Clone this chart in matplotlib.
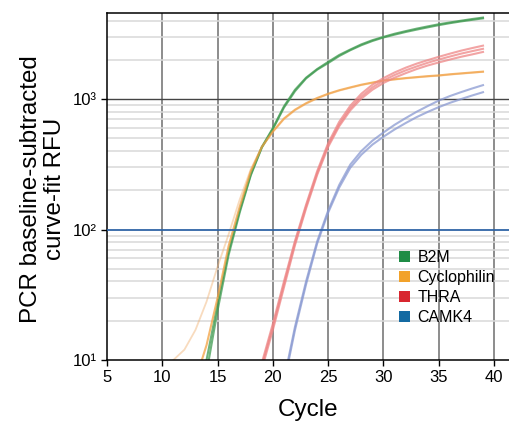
import matplotlib
matplotlib.use("Agg")
import matplotlib.pyplot as plt
from matplotlib.patches import Patch
from matplotlib.ticker import FixedLocator, LogLocator, NullFormatter

plt.rcParams['font.family'] = ['Liberation Sans', 'DejaVu Sans']

# B2M replicates (cycle 12..39)
b2m_cycles = list(range(12, 40))
b2m_rep1 = [3, 5.5, 10, 27, 68, 140, 265, 430, 600, 880, 1180, 1460, 1700, 1930,
            2180, 2400, 2630, 2830, 3000, 3170, 3320, 3470, 3610, 3750, 3870, 3990, 4110, 4220]
b2m_rep2 = [2.5, 4.5, 8, 24, 64, 135, 260, 425, 590, 860, 1150, 1440, 1680, 1890,
            2140, 2370, 2590, 2790, 2970, 3120, 3270, 3410, 3550, 3690, 3820, 3940, 4050, 4160]

# Cyclophilin replicates (cycle 9..39)
cyc_cycles = list(range(9, 40))
cyc_faint = [7, 8.5, 10, 12, 17, 28, 52, 92, 170, 290, 430, 560, 700, 820, 920, 1010,
             1090, 1160, 1220, 1280, 1330, 1380, 1410, 1440, 1465, 1490, 1510, 1540, 1565, 1590, 1615]
cyc_main = [1, 1.5, 2.5, 4, 7, 13, 30, 75, 150, 280, 430, 565, 710, 830, 930, 1020,
            1100, 1170, 1230, 1290, 1340, 1390, 1420, 1450, 1475, 1500, 1520, 1550, 1575, 1600, 1625]

# THRA replicates (cycle 18..39)
thra_cycles = list(range(18, 40))
thra_rep1 = [5, 9.5, 19, 40, 82, 155, 280, 460, 670, 890, 1100, 1290, 1450, 1600, 1740,
             1870, 1990, 2110, 2230, 2350, 2460, 2570]
thra_rep2 = [4.5, 9, 18, 38, 79, 150, 270, 445, 640, 850, 1050, 1230, 1390, 1530, 1660,
             1780, 1900, 2010, 2120, 2230, 2330, 2430]
thra_rep3 = [4.5, 8.5, 17, 36, 76, 145, 262, 430, 620, 820, 1010, 1180, 1330, 1460, 1580,
             1700, 1810, 1910, 2010, 2110, 2200, 2300]

# CAMK4 replicates (cycle 20..39)
camk_cycles = list(range(20, 40))
camk_rep1 = [2.5, 7, 18, 40, 81, 140, 220, 315, 400, 480, 555, 635, 715, 800, 885, 975,
             1055, 1130, 1205, 1280]
camk_rep2 = [2.3, 6.6, 17, 38, 78, 135, 210, 298, 375, 448, 515, 585, 655, 728, 798, 868,
             936, 1000, 1065, 1130]

threshold = 100

labels = ["B2M", "Cyclophilin", "THRA", "CAMK4"]
legend_colors = ["#1e8c45", "#f2a22a", "#d8262f", "#146aa2"]
line_colors = ["#3f9a50", "#f2a040", "#ee8686", "#8a9ad2"]

fig = plt.figure(figsize=(5.09, 4.22), dpi=100)
ax = fig.add_axes([107 / 509, 1 - 360 / 422, 1 - 107 / 509, 347 / 422])
ax.set_yscale("log")
ax.set_xlim(5, 41.35)
ax.set_ylim(10, 4573)

# grid
for x in range(10, 41, 5):
    ax.axvline(x, color="#8c8c8c", lw=1.4, zorder=1)
ax.yaxis.set_minor_locator(LogLocator(base=10, subs=range(2, 10)))
ax.yaxis.set_minor_formatter(NullFormatter())
ax.grid(axis="y", which="minor", color="#d9d9d9", lw=1.1, zorder=0)
ax.axhline(1000, color="#444444", lw=1.0, zorder=1)
ax.axhline(threshold, color="#2f64a6", lw=1.3, zorder=3)
ax.tick_params(axis="y", which="minor", length=0)

# curves
ax.plot(cyc_cycles, cyc_faint, color="#f0b070", lw=1.3, alpha=0.45, zorder=2)
for reps, cyc, col in [
    ([b2m_rep1, b2m_rep2], b2m_cycles, line_colors[0]),
    ([cyc_main], cyc_cycles, line_colors[1]),
    ([thra_rep1, thra_rep2, thra_rep3], thra_cycles, line_colors[2]),
    ([camk_rep1, camk_rep2], camk_cycles, line_colors[3]),
]:
    for r in reps:
        ax.plot(cyc, r, color=col, lw=1.5, alpha=0.75, zorder=2)

ax.xaxis.set_major_locator(FixedLocator(range(5, 41, 5)))
ax.set_yticks([10, 100, 1000])
ax.set_yticklabels(["10\u00b9", "10\u00b2", "10\u00b3"])
ax.tick_params(axis="both", which="major", labelsize=12, direction="out", length=4, width=1)
ax.tick_params(axis="x", top=False)
ax.spines["right"].set_visible(False)
for s in ["left", "bottom", "top"]:
    ax.spines[s].set_linewidth(1.1)

ax.set_xlabel("Cycle", fontsize=17.5)
ax.xaxis.set_label_coords(0.5, -0.112)
ax.set_ylabel("PCR baseline-subtracted\ncurve-fit RFU", fontsize=17.4, linespacing=1.08)
ax.yaxis.set_label_coords(-0.103, 0.493)

handles = [Patch(facecolor=c, edgecolor="none") for c in legend_colors]
ax.legend(handles, labels, loc="upper left", bbox_to_anchor=(399 / 509, 1 - 250 / 422),
          bbox_transform=fig.transFigure, frameon=False, fontsize=11.5,
          handlelength=0.7, handleheight=0.7, handletextpad=0.45,
          labelspacing=0.32, borderpad=0, borderaxespad=0)

fig.savefig("out.png", dpi=100)
